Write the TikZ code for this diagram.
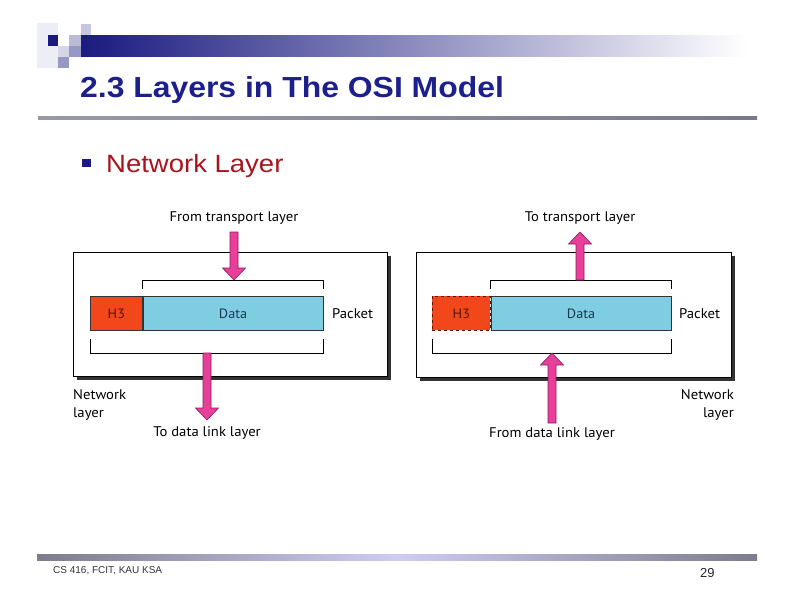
\documentclass[tikz,border=0pt]{standalone}
\usepackage{fontspec}
\setmainfont{Liberation Sans}
\newfontfamily\slidefont{Liberation Sans}[FakeStretch=1.1]
\newfontfamily\figfont{PT Sans}[FakeStretch=1.05]
\usetikzlibrary{calc,shadows}

\definecolor{titleblue}{HTML}{1C1F8C}
\definecolor{barnavy}{HTML}{1A1A80}
\definecolor{bulletred}{HTML}{A8141C}
\definecolor{headred}{HTML}{F2471B}
\definecolor{headtext}{HTML}{5A1205}
\definecolor{datacyan}{HTML}{7FCDE0}
\definecolor{datatext}{HTML}{1E3550}
\definecolor{arrowpink}{HTML}{E8409A}
\definecolor{arrowedge}{HTML}{8C1A5A}
\definecolor{rulegray}{HTML}{6E6E80}
\definecolor{footlav}{HTML}{CDCDF2}

\begin{document}
\begin{tikzpicture}[x=1pt,y=-1pt,
    layerbox/.style={draw=black, fill=white, line width=0.8pt, inner sep=0pt,
      drop shadow={shadow xshift=3.5pt, shadow yshift=-3.5pt, fill=black!80, opacity=1}},
    hdrbox/.style={draw=black!80, fill=headred, text=headtext, line width=0.7pt,
      inner sep=0pt, minimum height=34, font=\figfont\fontsize{13.5}{13.5}\selectfont},
    databox/.style={draw=black!80, fill=datacyan, text=datatext, line width=0.7pt,
      inner sep=0pt, minimum width=180, minimum height=34, font=\figfont\fontsize{13.5}{13.5}\selectfont},
    figlabel/.style={inner sep=0pt, font=\figfont\fontsize{14}{18}\selectfont},
    bracket/.style={line width=0.7pt},
    blockarrow/.style={fill=arrowpink, draw=arrowedge, line width=0.6pt, line join=miter}]
        % --- 1. Define Core Parameters ---
        \def\shaftw{4pt}
        \def\headw{11.5pt}
        \def\headl{12pt}
        % block arrow from #1 to the tip #2
        \def\blockarrow#1#2{%
          \draw[blockarrow] ($(#1)!\shaftw!-90:(#2)$)
            -- ($(#2)!\headl!(#1)!\shaftw!90:(#1)$)
            -- ($(#2)!\headl!(#1)!\headw!90:(#1)$)
            -- (#2)
            -- ($(#2)!\headl!(#1)!\headw!-90:(#1)$)
            -- ($(#2)!\headl!(#1)!\shaftw!-90:(#1)$)
            -- ($(#1)!\shaftw!90:(#2)$) -- cycle;}

        \useasboundingbox (0,0) rectangle (794,595);

        % --- 2. Slide Header ---
        \fill[barnavy!8] (37,23) rectangle (58,68);
        \fill[barnavy!18] (58,46) rectangle (69,57);
        \fill[barnavy!30] (69,35) rectangle (81,46);
        \fill[barnavy!25] (81,24) rectangle (91,35);
        \fill[barnavy!45] (69,46) rectangle (81,57);
        \fill[barnavy!45] (58,57) rectangle (69,68);
        \fill[barnavy] (48,35) rectangle (58,46);
        \shade[left color=barnavy, right color=white] (81,35) rectangle (747,56);

        \node[anchor=base west, inner sep=0pt, text=titleblue,
          font=\slidefont\bfseries\fontsize{29}{29}\selectfont] (title) at (80,97)
          {2.3 Layers in The OSI Model};
        \shade[left color=rulegray!70, right color=rulegray!110!black] (38,116) rectangle (757,119);

        \fill[barnavy] (82,159) rectangle (91,167);
        \node[anchor=base west, inner sep=0pt, text=bulletred,
          font=\slidefont\fontsize{25}{25}\selectfont] (bullet) at (106,172) {Network Layer};

        % --- 3. Sending Side (left) ---
        \node[layerbox, minimum width=314, minimum height=124, anchor=north west] (BoxL) at (73,252) {};
        \node[hdrbox, minimum width=52, anchor=north west] (H3L) at (90,296) {H3};
        \node[databox, anchor=west] (DataL) at (H3L.east) {Data};
        \node[figlabel, anchor=base west] (PacketL) at (332,318) {Packet};

        \draw[bracket] ($(DataL.north west)+(0,-7)$) -- ++(0,-9) coordinate (TopLa)
          -- ($(DataL.north east)+(0,-16)$) coordinate (TopLb) -- ++(0,9);
        \draw[bracket] ($(H3L.south west)+(0,8)$) -- ++(0,15) coordinate (BotLa)
          -- ($(DataL.south east)+(0,23)$) coordinate (BotLb) -- ++(0,-15);

        \node[figlabel, anchor=base] (FromTL) at (234,221) {From transport layer};
        \node[figlabel, anchor=base] (ToDLL) at (207,436) {To data link layer};
        \node[figlabel, anchor=base west, align=left] (NetL) at (73,417) {Network\\layer};

        \coordinate (InL) at (234,232);
        \coordinate (InLtip) at (234,280);
        \coordinate (OutL) at (207,353);
        \coordinate (OutLtip) at (207,420);
        \blockarrow{InL}{InLtip}
        \blockarrow{OutL}{OutLtip}

        % --- 4. Receiving Side (right) ---
        \node[layerbox, minimum width=315, minimum height=125, anchor=north west] (BoxR) at (416,252) {};
        \node[hdrbox, draw=headtext, dashed, minimum width=58, anchor=north west] (H3R) at (432,296) {H3};
        \node[databox, anchor=west] (DataR) at (H3R.east) {Data};
        \node[figlabel, anchor=base west] (PacketR) at (679,318) {Packet};

        \draw[bracket] ($(DataR.north west)+(0,-7)$) -- ++(0,-9) coordinate (TopRa)
          -- ($(DataR.north east)+(0,-16)$) coordinate (TopRb) -- ++(0,9);
        \draw[bracket] ($(H3R.south west)+(0,8)$) -- ++(0,15) coordinate (BotRa)
          -- ($(DataR.south east)+(0,23)$) coordinate (BotRb) -- ++(0,-15);

        \node[figlabel, anchor=base] (ToTL) at (580,221) {To transport layer};
        \node[figlabel, anchor=base] (FromDLL) at (552,437) {From data link layer};
        \node[figlabel, anchor=base east, align=right] (NetR) at (734,417) {Network\\layer};

        \coordinate (OutR) at (580,280);
        \coordinate (OutRtip) at (580,232);
        \coordinate (InR) at (552,423);
        \coordinate (InRtip) at (552,353);
        \blockarrow{OutR}{OutRtip}
        \blockarrow{InR}{InRtip}

        % --- 5. Slide Footer ---
        \shade[left color=rulegray!90, right color=rulegray!90, middle color=footlav] (37,554) rectangle (757,560);
        \node[anchor=base west, inner sep=0pt, text=black!80,
          font=\fontsize{10}{10}\selectfont] (course) at (53,573) {CS 416, FCIT, KAU KSA};
        \node[anchor=base west, inner sep=0pt, text=black!85,
          font=\fontsize{13}{13}\selectfont] (page) at (700,577) {29};
\end{tikzpicture}
\end{document}
